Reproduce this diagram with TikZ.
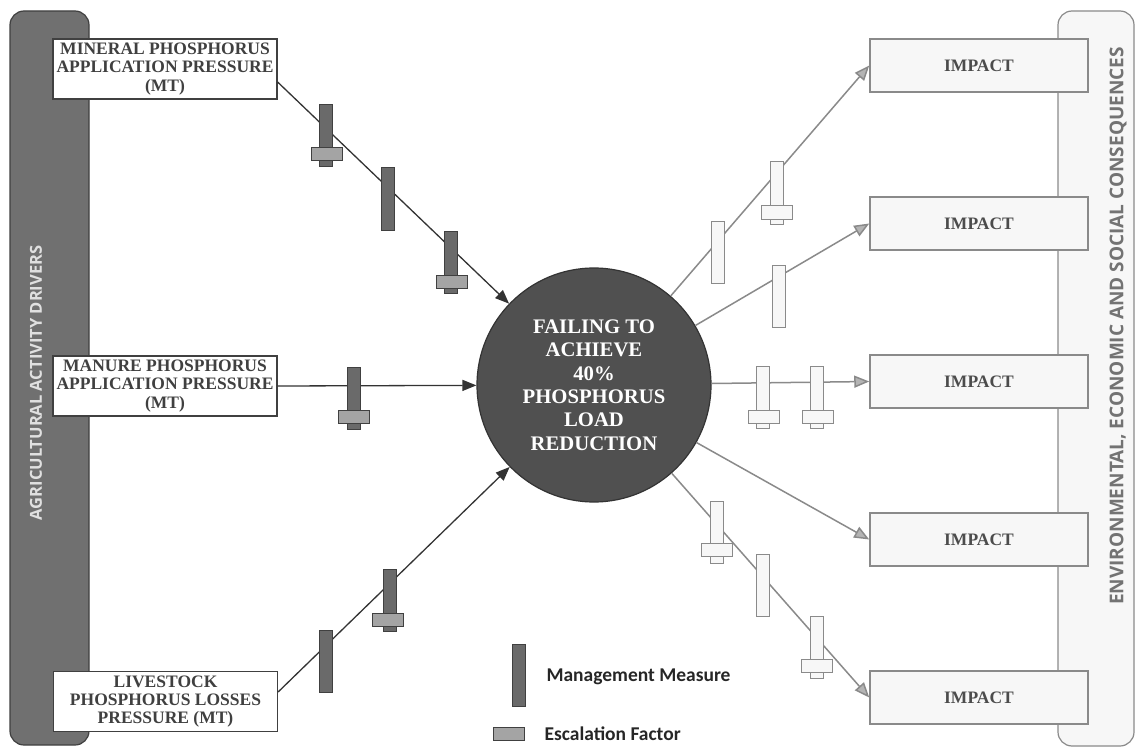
\documentclass[tikz,border=0pt]{standalone}
\usepackage{fontspec}
\setmainfont{Liberation Serif}
\newfontfamily\barfont{Open Sans}
\newfontfamily\keyfont{Carlito}
\usetikzlibrary{arrows.meta,calc}

\definecolor{drvbar}{HTML}{707070}
\definecolor{mmgray}{HTML}{6A6A6A}
\definecolor{efgray}{HTML}{A4A4A4}
\definecolor{failgray}{HTML}{505050}
\definecolor{impline}{HTML}{8A8A8A}
\definecolor{impfill}{HTML}{F7F7F7}
\definecolor{tipgray}{HTML}{B4B4B4}

\begin{document}
\begin{tikzpicture}[x=1pt,y=-1pt,
    % pressure boxes on the left
    pbox/.style={draw=black!75, fill=white, line width=1.2pt,
        minimum width=224pt, minimum height=60pt, inner sep=0pt,
        align=center, text=black!75,
        font=\bfseries\fontsize{17.5}{18.3}\selectfont},
    % impact boxes on the right
    ibox/.style={draw=impline, fill=impfill, line width=1.5pt,
        minimum width=218pt, minimum height=53pt, text=black!70,
        font=\bfseries\fontsize{17.5}{18}\selectfont},
    % management measure and escalation factor
    mm/.style={draw=black!75, fill=mmgray, line width=1pt,
        minimum width=13pt, minimum height=62pt, inner sep=0pt},
    ef/.style={draw=black!75, fill=efgray, line width=1pt,
        minimum width=31pt, minimum height=13pt, inner sep=0pt},
    mmr/.style={mm, draw=impline, fill=impfill},
    efr/.style={ef, draw=impline, fill=impfill},
    % connectors
    drv/.style={draw=black!80, line width=1.3pt,
        -{Triangle[length=14pt,width=11pt]}},
    imp/.style={draw=impline, line width=1.5pt,
        -{Triangle[length=15pt,width=12pt,fill=tipgray]}}
]
\useasboundingbox (0,0) rectangle (1136,749);

% Driver bar on the left.
\draw[draw=black!75, fill=drvbar, line width=1.2pt, rounded corners=14pt]
    (10,11) rectangle (89,745);
\node (drvtxt) at (36,383) [rotate=90, text=black!12,
    font=\barfont\bfseries\fontsize{16.5}{18}\selectfont]
    {AGRICULTURAL ACTIVITY DRIVERS};

% Consequence bar on the right.
\draw[draw=impline, fill=impfill, line width=1.2pt, rounded corners=14pt]
    (1058,11) rectangle (1134,746);
\node (csqtxt) at (1118,326) [rotate=90, text=black!55,
    font=\barfont\bfseries\fontsize{19}{21}\selectfont]
    {ENVIRONMENTAL, ECONOMIC AND SOCIAL CONSEQUENCES};

% Pressure boxes.
\node[pbox] (mineral) at (165,69)
    {MINERAL PHOSPHORUS\\APPLICATION PRESSURE\\(MT)};
\node[pbox] (manure) at (165,386)
    {MANURE PHOSPHORUS\\APPLICATION PRESSURE\\(MT)};
\node[pbox] (livestock) at (165.5,701.5)
    {LIVESTOCK\\PHOSPHORUS LOSSES\\PRESSURE (MT)};

% Top event.
\node (fail) at (594,385) [circle, draw=black!80, fill=failgray,
    line width=1.2pt, minimum size=234pt, inner sep=0pt, align=center,
    text=white, font=\bfseries\fontsize{20.7}{23.3}\selectfont]
    {FAILING TO\\ACHIEVE\\40\%\\PHOSPHORUS\\LOAD\\REDUCTION};

% Impact boxes.
\foreach \y/\t in {65.5/1,223.5/2,381.5/3,539.5/4,697.5/5} {
    \node[ibox] (impact\t) at (979,\y) {IMPACT};
}

% Drivers into the top event.
\draw[drv] ([yshift=-13pt]mineral.east) -- (fail);
\draw[drv] (manure.east) -- (fail);
\draw[drv] ([yshift=9.5pt]livestock.east) -- (fail);

% Top event out to the impacts.
\foreach \t in {1,...,5} {
    \draw[imp] (fail) -- (impact\t.west);
}

% Measures on the driver side.
\foreach \x/\y/\n in {326/135.5/a, 388/199/b, 450.5/262.5/c,
                      353.5/398/d, 389.5/600.5/e, 325.5/661/f} {
    \node[mm] (mm\n) at (\x,\y) {};
}
\foreach \x/\y/\n in {326.5/154.5/a, 451.5/281.5/c,
                      353.5/416.5/d, 387.5/620/e} {
    \node[ef] (ef\n) at (\x,\y) {};
}

% Measures on the impact side.
\foreach \x/\y/\n in {717.5/252.5/a, 776.5/193/b, 778.5/296.5/c,
                      763/397.5/d, 817/397.5/e,
                      717/532.5/f, 762.5/585/g, 817/647/h} {
    \node[mmr] (mmr\n) at (\x,\y) {};
}
\foreach \x/\y/\n in {776.5/212.5/b, 763.5/416.5/d, 817.5/416.5/e,
                      717/550/f, 816.5/665.5/h} {
    \node[efr] (efr\n) at (\x,\y) {};
}

% Legend.
\node[mm] (keymm) at (519,675.5) {};
\node[ef] (keyef) at (509,734) {};
\node[anchor=west, font=\keyfont\bfseries\fontsize{19.5}{21}\selectfont,
    text=black!85] (keymmtxt) at (543,677) {Management Measure};
\node[anchor=west, font=\keyfont\bfseries\fontsize{19.5}{21}\selectfont,
    text=black!85] (keyeftxt) at (541,734) {Escalation Factor};

\end{tikzpicture}
\end{document}
